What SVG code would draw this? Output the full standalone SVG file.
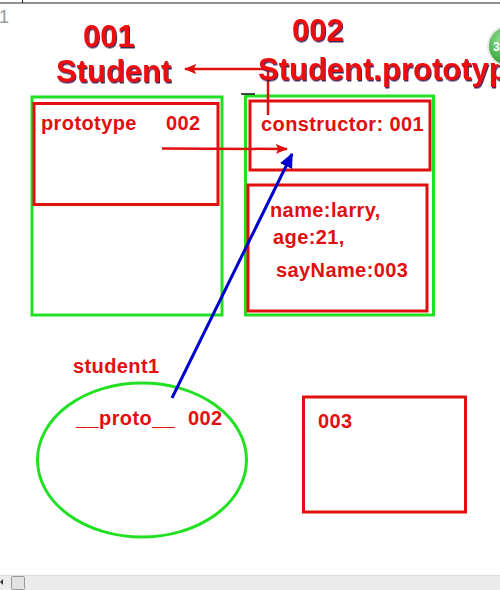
<svg xmlns="http://www.w3.org/2000/svg" width="500" height="590" viewBox="0 0 500 590">
<defs>
<style>
.g{fill:none;stroke:#22e022;stroke-width:3}
.r{fill:none;stroke:#e01010;stroke-width:3}
.t{font-family:"Liberation Sans",Arial,sans-serif;font-weight:bold;font-size:20px;letter-spacing:0.4px;fill:#e01010}
.big{font-family:"Liberation Sans",Arial,sans-serif;font-weight:bold;font-size:31px;fill:#ee1111;filter:url(#sh)}
.cr{fill:none;stroke:#e01010;stroke-width:2.5}
.cb{fill:none;stroke:#0000cc;stroke-width:3}
</style>
<filter id="sh" x="-10%" y="-10%" width="120%" height="130%">
<feDropShadow dx="1" dy="1.5" stdDeviation="0.4" flood-color="#301040" flood-opacity="0.9"/>
</filter>
<marker id="ar" viewBox="0 0 10 10" refX="9" refY="5" markerWidth="5" markerHeight="5" orient="auto" markerUnits="strokeWidth">
<path d="M0,1 L10,5 L0,9 L2,5 z" fill="#e01010"/>
</marker>
<marker id="ab" viewBox="0 0 10 10" refX="9" refY="5" markerWidth="5" markerHeight="5" orient="auto" markerUnits="strokeWidth">
<path d="M0,0.5 L10,5 L0,9.5 z" fill="#0000cc"/>
</marker>
<radialGradient id="gb" cx="40%" cy="35%" r="65%">
<stop offset="0" stop-color="#9be89b"/>
<stop offset="1" stop-color="#2a9a2a"/>
</radialGradient>
</defs>
<rect width="500" height="590" fill="#fff"/>
<line x1="0" y1="3" x2="500" y2="3" stroke="#222" stroke-width="1"/>
<line x1="22.5" y1="0" x2="22.5" y2="3" stroke="#223" stroke-width="1"/>
<text x="-1" y="23" font-family="Liberation Sans,Arial,sans-serif" font-size="18" fill="#999">1</text>

<g id="student-func">
<rect class="g" x="32" y="97" width="190" height="218"/>
<rect class="r" x="34" y="103.5" width="184" height="101"/>
<text class="t" x="41" y="130">prototype</text>
<text class="t" x="166" y="130">002</text>
</g>

<g id="student-prototype">
<rect class="g" x="245.5" y="96" width="188" height="219"/>
<rect class="r" x="250" y="101" width="180" height="69"/>
<text class="t" x="261" y="131">constructor: 001</text>
<rect class="r" x="248" y="185" width="179" height="126"/>
<text class="t" x="270" y="217">name:larry,</text>
<text class="t" x="273" y="244">age:21,</text>
<text class="t" x="276" y="277">sayName:003</text>
</g>

<g id="student1">
<text class="t" x="73" y="373">student1</text>
<ellipse cx="142" cy="460" rx="104.5" ry="77" fill="none" stroke="#22e022" stroke-width="3"/>
<text class="t" x="76" y="425">__proto__<tspan x="188">002</tspan></text>
</g>

<g id="func003">
<rect class="r" x="303.5" y="397" width="162" height="115"/>
<text class="t" x="318" y="428">003</text>
</g>

<g id="connectors">
<polyline class="cr" points="268,115 268,69 185,69" marker-end="url(#ar)"/>
<line class="cr" x1="162" y1="148.5" x2="287" y2="149" marker-end="url(#ar)"/>
<line class="cb" x1="172" y1="398" x2="292" y2="154" marker-end="url(#ab)"/>
<line x1="241" y1="94" x2="255" y2="94" stroke="#111" stroke-width="1.5"/>
</g>

<g id="titles">
<text class="big" x="83" y="47">001</text>
<text class="big" x="56" y="82">Student</text>
<text class="big" x="292" y="41">002</text>
<text class="big" x="258" y="80">Student.prototype</text>
</g>

<g id="badge">
<circle cx="508" cy="46" r="20" fill="url(#gb)" stroke="#e8e8e8" stroke-width="2"/>
<text x="493" y="51" font-family="Liberation Sans,Arial,sans-serif" font-size="12" font-weight="bold" fill="#fff">3</text>
</g>

<g id="scrollbar">
<rect x="0" y="575" width="500" height="15" fill="#ececec"/>
<line x1="0" y1="575.5" x2="500" y2="575.5" stroke="#dcdcdc"/>
<path d="M3,579 L0,582 L3,585 z" fill="#333"/>
<rect x="11.5" y="576.5" width="13" height="13" fill="#e2e2e2" stroke="#999" rx="1"/>
</g>
</svg>
